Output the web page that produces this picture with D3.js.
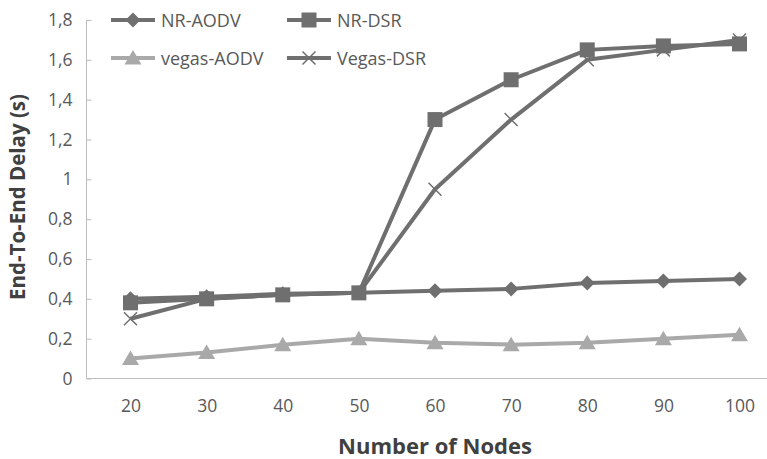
<!DOCTYPE html>
<html>
<head>
<meta charset="utf-8">
<script src="https://cdn.jsdelivr.net/npm/d3@7/dist/d3.min.js"></script>
<style>
  body { margin: 0; background: #fff; }
  text { font-family: "Open Sans", Lato, sans-serif; }
</style>
</head>
<body>
<div id="chart"></div>
<script>
const nodes = [20, 30, 40, 50, 60, 70, 80, 90, 100]
const yTicks = [0, 0.2, 0.4, 0.6, 0.8, 1, 1.2, 1.4, 1.6, 1.8]

const nrAodv = [0.40, 0.41, 0.425, 0.43, 0.44, 0.45, 0.48, 0.49, 0.50]
const nrDsr = [0.38, 0.40, 0.42, 0.43, 1.30, 1.50, 1.65, 1.67, 1.68]
const vegasAodv = [0.10, 0.13, 0.17, 0.20, 0.18, 0.17, 0.18, 0.20, 0.22]
const vegasDsr = [0.30, 0.40, 0.42, 0.43, 0.95, 1.30, 1.60, 1.65, 1.70]

const seriesNames = ['NR-AODV', 'NR-DSR', 'vegas-AODV', 'Vegas-DSR']
const seriesValues = [nrAodv, nrDsr, vegasAodv, vegasDsr]
const seriesColors = ['#6f6f6f', '#6f6f6f', '#a9a9a9', '#6f6f6f']
const seriesSymbols = ['diamond', 'square', 'triangle', 'cross']

const width = 767, height = 459

let svg = d3.select('#chart').append('svg')
  .attr('width', width)
  .attr('height', height)

// category positions, axis runs from 92 past the right edge
let x = d3.scalePoint()
  .domain(nodes)
  .range([130.5, 739.5])

let y = d3.scaleLinear()
  .domain([0, 1.8])
  .range([378.5, 20])

let fmt = d => String(+d.toFixed(1)).replace('.', ',')

// y axis
let yAxis = svg.append('g')
  .attr('transform', 'translate(91.5,0)')
  .call(d3.axisLeft(y).tickValues(yTicks).tickSize(5).tickPadding(6).tickFormat(fmt))
yAxis.select('.domain').attr('stroke', '#bcbcbc').attr('d', 'M-5,20V378.5H0')
yAxis.selectAll('.tick line').attr('stroke', '#bcbcbc')
yAxis.selectAll('.tick text')
  .attr('fill', '#595959')
  .style('font-size', '17.5px')
  .attr('dx', '-8')

// x axis
let xAxis = svg.append('g')
  .attr('transform', 'translate(0,378.5)')
  .call(d3.axisBottom(x).tickSize(0).tickPadding(21))
xAxis.select('.domain').attr('stroke', '#bcbcbc').attr('d', 'M91.5,0H767')
xAxis.selectAll('.tick text')
  .attr('fill', '#595959')
  .style('font-size', '17.5px')

// titles
svg.append('text')
  .attr('x', 435).attr('y', 454)
  .attr('text-anchor', 'middle')
  .attr('fill', '#404040')
  .style('font-size', '22px')
  .style('font-weight', 'bold')
  .text('Number of Nodes')

svg.append('text')
  .attr('transform', 'translate(24.5,197) rotate(-90)')
  .attr('text-anchor', 'middle')
  .attr('fill', '#404040')
  .style('font-size', '20.5px')
  .style('font-weight', 'bold')
  .text('End-To-End Delay (s)')

// markers
function drawMarker(g, kind, color, cx, cy) {
  if (kind === 'diamond') {
    g.append('path')
      .attr('d', `M${cx},${cy - 7.5}L${cx + 7.5},${cy}L${cx},${cy + 7.5}L${cx - 7.5},${cy}Z`)
      .attr('fill', color)
  } else if (kind === 'square') {
    g.append('rect')
      .attr('x', cx - 7.5).attr('y', cy - 7.5)
      .attr('width', 15).attr('height', 15)
      .attr('fill', color)
  } else if (kind === 'triangle') {
    g.append('path')
      .attr('d', `M${cx},${cy - 8}L${cx + 8.5},${cy + 6.5}L${cx - 8.5},${cy + 6.5}Z`)
      .attr('fill', color)
  } else {
    g.append('path')
      .attr('d', `M${cx - 6.5},${cy - 6.5}L${cx + 6.5},${cy + 6.5}M${cx - 6.5},${cy + 6.5}L${cx + 6.5},${cy - 6.5}`)
      .attr('stroke', color)
      .attr('stroke-width', 1.5)
      .attr('fill', 'none')
  }
}

let plotLine = d3.line()
  .x((d, i) => x(nodes[i]))
  .y(d => y(d))

// light series first, then the dark ones on top
let order = [2, 3, 0, 1]
order.forEach(k => {
  let g = svg.append('g')
  g.append('path')
    .datum(seriesValues[k])
    .attr('d', plotLine)
    .attr('fill', 'none')
    .attr('stroke', seriesColors[k])
    .attr('stroke-width', 4)
    .attr('stroke-linejoin', 'round')
  seriesValues[k].forEach((v, i) => {
    drawMarker(g, seriesSymbols[k], seriesColors[k], x(nodes[i]), y(v))
  })
})

// legend
let legendPos = [[111, 20], [287, 20], [111, 58], [287, 58]]
seriesNames.forEach((name, k) => {
  let g = svg.append('g')
  let [lx, ly] = legendPos[k]
  g.append('line')
    .attr('x1', lx).attr('x2', lx + 44)
    .attr('y1', ly).attr('y2', ly)
    .attr('stroke', seriesColors[k])
    .attr('stroke-width', 4)
  drawMarker(g, seriesSymbols[k], seriesColors[k], lx + 22, ly)
  g.append('text')
    .attr('x', lx + 50).attr('y', ly + 6.5)
    .attr('fill', '#595959')
    .style('font-size', '18px')
    .text(name)
})
</script>
</body>
</html>
